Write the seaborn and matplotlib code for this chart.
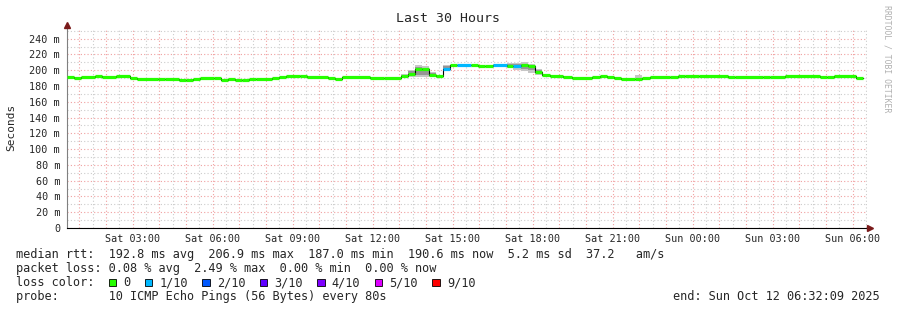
import numpy as np
import pandas as pd
import matplotlib
matplotlib.use("Agg")
import matplotlib.pyplot as plt
import matplotlib.dates as mdates
from matplotlib.ticker import MultipleLocator, FuncFormatter
from matplotlib.patches import Rectangle
from datetime import timedelta
import seaborn as sns

# ---------------- data ----------------
window_start = "2025-10-11 00:32:09"
window_end = "2025-10-12 06:32:09"
last_sample_end = "2025-10-12 06:23"

times = [
    "2025-10-11 00:32", "2025-10-11 00:48", "2025-10-11 01:04", "2025-10-11 01:35", "2025-10-11 01:51",
    "2025-10-11 02:22", "2025-10-11 02:54", "2025-10-11 03:10", "2025-10-11 03:57", "2025-10-11 04:13",
    "2025-10-11 04:44", "2025-10-11 05:00", "2025-10-11 05:16", "2025-10-11 05:31", "2025-10-11 06:03",
    "2025-10-11 06:19", "2025-10-11 06:34", "2025-10-11 06:50", "2025-10-11 07:06", "2025-10-11 07:22",
    "2025-10-11 07:37", "2025-10-11 08:13", "2025-10-11 08:29", "2025-10-11 08:45", "2025-10-11 09:16",
    "2025-10-11 09:32", "2025-10-11 10:19", "2025-10-11 10:35", "2025-10-11 10:51", "2025-10-11 11:54",
    "2025-10-11 12:25", "2025-10-11 13:03", "2025-10-11 13:19", "2025-10-11 13:35", "2025-10-11 13:51",
    "2025-10-11 14:06", "2025-10-11 14:22", "2025-10-11 14:38", "2025-10-11 14:54", "2025-10-11 15:09",
    "2025-10-11 15:41", "2025-10-11 15:57", "2025-10-11 16:12", "2025-10-11 16:30", "2025-10-11 17:02",
    "2025-10-11 17:15", "2025-10-11 17:33", "2025-10-11 17:49", "2025-10-11 18:05", "2025-10-11 18:21",
    "2025-10-11 18:39", "2025-10-11 19:08", "2025-10-11 19:28", "2025-10-11 20:13", "2025-10-11 20:31",
    "2025-10-11 20:47", "2025-10-11 21:03", "2025-10-11 21:18", "2025-10-11 21:50", "2025-10-11 22:06",
    "2025-10-11 22:24", "2025-10-11 23:09", "2025-10-11 23:27", "2025-10-11 23:42", "2025-10-12 00:14",
    "2025-10-12 01:19", "2025-10-12 01:35", "2025-10-12 02:38", "2025-10-12 02:54", "2025-10-12 03:27",
    "2025-10-12 04:46", "2025-10-12 05:02", "2025-10-12 05:18", "2025-10-12 06:07",
]

median_ms = [
    191, 189.5, 191, 192.8, 191.5,
    193, 190, 189, 188.5, 189,
    187.5, 188, 189, 190, 189.5,
    187.5, 189, 188, 187.5, 188.5,
    189, 189.5, 191, 192.4, 192.4,
    191.1, 190.7, 189.3, 191, 189.8,
    190.7, 192.8, 195.8, 202, 201.5,
    194.5, 192.4, 202, 206, 206,
    206.6, 205.5, 205.8, 206, 205.5,
    205.5, 206, 205.5, 198, 194,
    192.4, 191.6, 189.5, 191, 192.4,
    191.7, 190.3, 189, 189, 190.3,
    191, 191.3, 192.8, 193, 192.4,
    191.7, 191, 191.3, 191, 192.4,
    191.7, 191, 192.8, 189.6,
]

# index into loss_labels (0 = no loss, 1 = 1/10 ...)
loss_idx = [0] * 37 + [1, 0, 1, 0, 0, 0, 1, 0, 1] + [0] * 28

smoke_start = ["2025-10-11 09:16", "2025-10-11 13:03", "2025-10-11 13:19", "2025-10-11 13:35",
               "2025-10-11 13:51", "2025-10-11 14:06", "2025-10-11 14:22", "2025-10-11 14:38",
               "2025-10-11 17:02", "2025-10-11 17:15", "2025-10-11 17:33", "2025-10-11 17:49",
               "2025-10-11 18:05", "2025-10-11 18:21", "2025-10-11 19:08", "2025-10-11 21:50"]
smoke_end = ["2025-10-11 09:32", "2025-10-11 13:19", "2025-10-11 13:35", "2025-10-11 13:51",
             "2025-10-11 14:06", "2025-10-11 14:22", "2025-10-11 14:38", "2025-10-11 14:54",
             "2025-10-11 17:15", "2025-10-11 17:33", "2025-10-11 17:49", "2025-10-11 18:05",
             "2025-10-11 18:21", "2025-10-11 18:39", "2025-10-11 19:28", "2025-10-11 22:06"]
smoke_lo = [192.0, 190.5, 191.5, 192.0, 192.0, 191.5, 190.5, 199.0,
            202.5, 200.0, 199.0, 197.0, 194.5, 192.5, 191.0, 189.5]
smoke_hi = [194.5, 195.5, 200.5, 206.0, 205.5, 197.5, 194.0, 207.0,
            209.0, 209.5, 210.5, 208.5, 201.5, 195.5, 193.0, 193.6]
core_lo = [np.nan, 191.5, 193.0, 194.5, 194.0, 193.0, 191.5, 200.5,
           204.0, 202.5, 201.5, 200.0, 196.0, 193.2, np.nan, np.nan]
core_hi = [np.nan, 194.0, 198.5, 204.0, 203.0, 196.0, 193.5, 205.0,
           207.5, 207.5, 208.5, 207.0, 200.0, 195.0, np.nan, np.nan]

loss_labels = ["0", "1/10", "2/10", "3/10", "4/10", "5/10", "9/10"]
loss_colors = ["#26ff00", "#00b8ff", "#0059ff", "#5e00ff", "#7e00ff", "#dd00ff", "#ff0000"]

legend_lines = [
    "median rtt:  192.8 ms avg  206.9 ms max  187.0 ms min  190.6 ms now  5.2 ms sd  37.2   am/s",
    "packet loss: 0.08 % avg  2.49 % max  0.00 % min  0.00 % now",
]
probe_line = "probe:       10 ICMP Echo Pings (56 Bytes) every 80s"
end_line = "end: Sun Oct 12 06:32:09 2025"
title = "Last 30 Hours"
ylabel = "Seconds"
watermark = "RRDTOOL / TOBI OETIKER"

# ---------------- figure ----------------
sns.set_style("white")
plt.rcParams["font.family"] = ["DejaVu Sans Mono"]

W, H = 897, 310
fig = plt.figure(figsize=(W / 100, H / 100), dpi=100)
fig.patch.set_facecolor("white")
ax = fig.add_axes([67 / W, 82 / H, 800 / W, 200 / H])

t = pd.to_datetime(times)
t_end = list(t[1:]) + [pd.Timestamp(last_sample_end)]
df = pd.DataFrame({"time": list(t) + [pd.Timestamp(last_sample_end)],
                   "median": median_ms + [median_ms[-1]]})

# smoke
s0 = mdates.date2num(pd.to_datetime(smoke_start))
s1 = mdates.date2num(pd.to_datetime(smoke_end))
lo = np.array(smoke_lo); hi = np.array(smoke_hi)
clo = np.array(core_lo); chi = np.array(core_hi)
ax.bar(s0, hi - lo, bottom=lo, width=s1 - s0, align="edge", color="#c6c6c6", linewidth=0, zorder=2)
ax.bar(s0, chi - clo, bottom=clo, width=s1 - s0, align="edge", color="#969696", linewidth=0, zorder=2.1)

# thin black median connectors
sns.lineplot(data=df, x="time", y="median", drawstyle="steps-post", color="black",
             linewidth=0.8, estimator=None, ax=ax, zorder=2.5)

# loss-coloured median segments
ax.hlines(median_ms, mdates.date2num(t), mdates.date2num(pd.to_datetime(t_end)),
          colors=[loss_colors[i] for i in loss_idx], linewidth=2.3, zorder=3,
          capstyle="butt")

ax.set_xlim(pd.Timestamp(window_start), pd.Timestamp(window_end))
ax.set_ylim(0, 253.5)

# grid
ax.xaxis.set_major_locator(mdates.HourLocator(interval=1))
ax.xaxis.set_minor_locator(mdates.MinuteLocator(byminute=[0, 30]))


def xfmt(x, pos):
    d = mdates.num2date(x) + timedelta(seconds=30)
    d = d.replace(second=0, microsecond=0)
    return d.strftime("%a %H:%M") if (d.hour % 3 == 0 and d.minute == 0) else ""


ax.xaxis.set_major_formatter(FuncFormatter(xfmt))
ax.yaxis.set_major_locator(MultipleLocator(20))
ax.yaxis.set_minor_locator(MultipleLocator(10))
ax.yaxis.set_major_formatter(FuncFormatter(lambda v, p: "0" if v == 0 else f"{v:.0f} m"))

ax.grid(which="major", color="#f0a0a0", linestyle=(0, (1, 2)), linewidth=0.8)
ax.grid(which="minor", color="#cccccc", linestyle=(0, (1, 2)), linewidth=0.8)
ax.set_axisbelow(True)

ax.tick_params(axis="both", which="major", labelsize=7.3, length=2.5, width=0.7,
               color="#777777", pad=2.5)
ax.tick_params(axis="both", which="minor", length=0)
ax.tick_params(axis="x", which="major", length=2, pad=2.5)
ax.set_xlabel("")
ax.set_ylabel("")

for side in ["top", "right"]:
    ax.spines[side].set_visible(False)
ax.spines["left"].set_color("#808080")
ax.spines["left"].set_linewidth(0.8)
ax.spines["bottom"].set_color("black")
ax.spines["bottom"].set_linewidth(0.8)

# arrows on axes
ax.plot([0], [1.015], marker="^", markersize=4, color="#7a1a1a", transform=ax.transAxes,
        clip_on=False, zorder=5)
ax.plot([1.004], [0], marker=">", markersize=4, color="#7a1a1a", transform=ax.transAxes,
        clip_on=False, zorder=5)

# texts
def fx(px):
    return px / W


def fy(py):
    return 1 - py / H


fig.text(fx(448), fy(19), title, ha="center", va="center", fontsize=9.5)
fig.text(fx(11), fy(127), ylabel, ha="center", va="center", rotation=90, fontsize=8)
fig.text(fx(887), fy(5), watermark, ha="center", va="top", rotation=-90, fontsize=5.9,
         color="#b0b0b0")

lfs = 8.6
fig.text(fx(16), fy(254.5), legend_lines[0], ha="left", va="center", fontsize=lfs)
fig.text(fx(16), fy(268.5), legend_lines[1], ha="left", va="center", fontsize=lfs)
fig.text(fx(16), fy(282.5), "loss color:", ha="left", va="center", fontsize=lfs)
fig.text(fx(16), fy(296.5), probe_line, ha="left", va="center", fontsize=lfs)
fig.text(fx(880), fy(296.5), end_line, ha="right", va="center", fontsize=lfs)

char_w = 7.14
bx = 108.5
for lab, col in zip(loss_labels, loss_colors):
    fig.add_artist(Rectangle((fx(bx), fy(286)), 7.5 / W, 7.5 / H, transform=fig.transFigure,
                             facecolor=col, edgecolor="black", linewidth=0.6))
    tx = bx + 14.5
    fig.text(fx(tx), fy(282.5), lab, ha="left", va="center", fontsize=lfs)
    bx = tx + len(lab) * char_w + 14.5

fig.savefig("out.png", dpi=100, facecolor="white")
